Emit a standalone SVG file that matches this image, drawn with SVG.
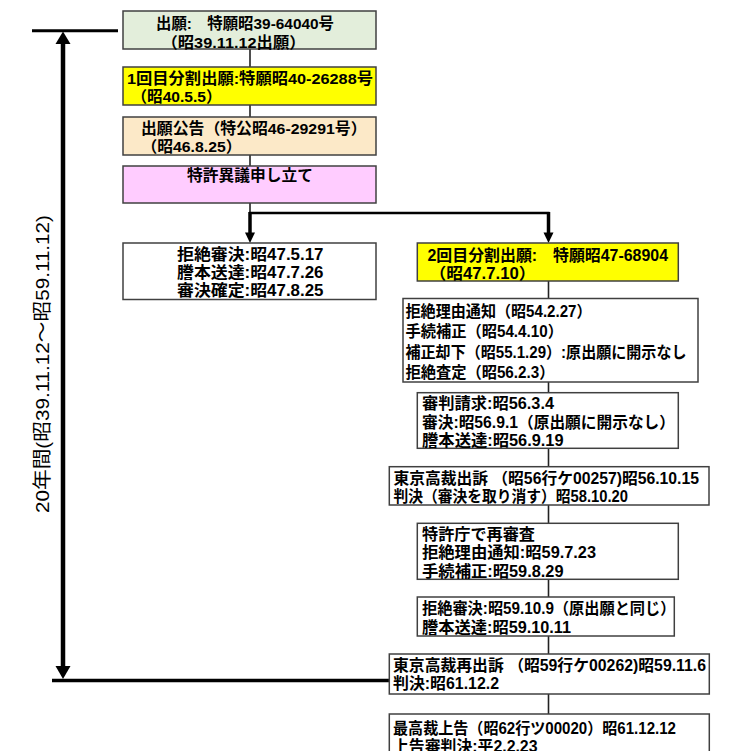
<svg xmlns="http://www.w3.org/2000/svg" width="739" height="751" viewBox="0 0 739 751">
<style>
.box{stroke:#404040;stroke-width:1.5}
.t{font-family:"Liberation Sans","Noto Sans CJK JP","Noto Sans CJK SC",sans-serif;font-weight:bold;font-size:16px;fill:#000}
.s{font-size:15.5px}
.thin{stroke:#222;stroke-width:1.6;fill:none}
.thick{stroke:#000;fill:none}
.lbl{font-family:"Liberation Sans","Noto Sans CJK JP",sans-serif;font-size:19px;fill:#000}
</style>
<defs>
<polygon id="ah" points="-5,-10.5 5,-10.5 0,0" fill="#000"/>
</defs>
<rect width="739" height="751" fill="#fff"/>

<g id="connectors">
  <line class="thin" x1="250" y1="49" x2="250" y2="67"/>
  <line class="thin" x1="250" y1="105" x2="250" y2="117"/>
  <line class="thin" x1="250" y1="155" x2="250" y2="166"/>
  <line class="thin" x1="250" y1="203" x2="250" y2="213"/>
  <line class="thick" stroke-width="2.5" x1="249" y1="213" x2="549.5" y2="213"/>
  <line class="thick" stroke-width="3.5" x1="250" y1="212" x2="250" y2="234"/>
  <line class="thick" stroke-width="3.5" x1="548.5" y1="212" x2="548.5" y2="234"/>
  <use href="#ah" x="250" y="243"/>
  <use href="#ah" x="548.5" y="243"/>
  <line class="thin" x1="548.5" y1="281" x2="548.5" y2="298.5"/>
  <line class="thin" x1="548.5" y1="382" x2="548.5" y2="392.7"/>
  <line class="thin" x1="548.5" y1="448.3" x2="548.5" y2="466.7"/>
  <line class="thin" x1="548.5" y1="505" x2="548.5" y2="523.3"/>
  <line class="thin" x1="548.5" y1="579.3" x2="548.5" y2="597"/>
  <line class="thin" x1="548.5" y1="636" x2="548.5" y2="654"/>
  <line class="thin" x1="548.5" y1="694" x2="548.5" y2="714"/>
  <!-- 20-year span -->
  <line class="thick" stroke-width="3" x1="32" y1="30.8" x2="118" y2="30.8"/>
  <line class="thick" stroke-width="3.5" x1="52" y1="680.5" x2="389.3" y2="680.5"/>
  <line class="thick" stroke-width="4.5" x1="63" y1="42" x2="63" y2="668"/>
  <polygon points="63,31.5 55.5,44 70.5,44" fill="#000"/>
  <polygon points="63,679 55.5,666 70.5,666" fill="#000"/>
</g>

<g id="span-label">
  <text class="lbl" transform="translate(49,364) rotate(-90)" text-anchor="middle" textLength="298" lengthAdjust="spacingAndGlyphs">20年間(昭39.11.12～昭59.11.12)</text>
</g>

<g id="n1">
  <rect class="box" x="123" y="11" width="253" height="38" fill="#e3eedb"/>
  <text class="t s" x="156" y="28.5" textLength="178" lengthAdjust="spacingAndGlyphs">出願:　特願昭39-64040号</text>
  <text class="t s" x="161.5" y="47.5" textLength="144" lengthAdjust="spacingAndGlyphs">（昭39.11.12出願）</text>
</g>

<g id="n2">
  <rect class="box" x="123" y="67" width="253" height="38" fill="#ffff00"/>
  <text class="t s" x="127" y="84" textLength="246" lengthAdjust="spacingAndGlyphs">1回目分割出願:特願昭40-26288号</text>
  <text class="t s" x="131.5" y="102.2" textLength="90" lengthAdjust="spacingAndGlyphs">（昭40.5.5）</text>
</g>

<g id="n3">
  <rect class="box" x="123" y="117" width="253" height="38" fill="#fce9c8"/>
  <text class="t s" x="141" y="134" textLength="225.5" lengthAdjust="spacingAndGlyphs">出願公告（特公昭46-29291号）</text>
  <text class="t s" x="141.5" y="152.3" textLength="100" lengthAdjust="spacingAndGlyphs">（昭46.8.25）</text>
</g>

<g id="n4">
  <rect class="box" x="123" y="166" width="253" height="37" fill="#ffccff"/>
  <text class="t s" x="187" y="180.7" textLength="126" lengthAdjust="spacingAndGlyphs">特許異議申し立て</text>
</g>

<g id="n5">
  <rect class="box" x="123" y="243" width="253" height="56.5" fill="#fff"/>
  <text class="t" x="177" y="259.5" textLength="146.5" lengthAdjust="spacingAndGlyphs">拒絶審決:昭47.5.17</text>
  <text class="t" x="177" y="277.9" textLength="146.5" lengthAdjust="spacingAndGlyphs">謄本送達:昭47.7.26</text>
  <text class="t" x="177" y="296.2" textLength="146.5" lengthAdjust="spacingAndGlyphs">審決確定:昭47.8.25</text>
</g>

<g id="n6">
  <rect class="box" x="417.3" y="243" width="261" height="38" fill="#ffff00"/>
  <text class="t" x="427.5" y="261" textLength="240.5" lengthAdjust="spacingAndGlyphs">2回目分割出願:　特願昭47-68904</text>
  <text class="t" x="429.5" y="279" textLength="106" lengthAdjust="spacingAndGlyphs">（昭47.7.10）</text>
</g>

<g id="n7">
  <rect class="box" x="403" y="298.5" width="295" height="83.5" fill="#fff"/>
  <text class="t" x="405.5" y="317" textLength="186" lengthAdjust="spacingAndGlyphs">拒絶理由通知（昭54.2.27）</text>
  <text class="t" x="405.5" y="337" textLength="157.5" lengthAdjust="spacingAndGlyphs">手続補正（昭54.4.10）</text>
  <text class="t" x="405.5" y="357.5" textLength="281" lengthAdjust="spacingAndGlyphs">補正却下（昭55.1.29）:原出願に開示なし</text>
  <text class="t" x="405.5" y="378" textLength="149" lengthAdjust="spacingAndGlyphs">拒絶査定（昭56.2.3）</text>
</g>

<g id="n8">
  <rect class="box" x="417.3" y="392.7" width="261" height="55.6" fill="#fff"/>
  <text class="t" x="422" y="409.2" textLength="132" lengthAdjust="spacingAndGlyphs">審判請求:昭56.3.4</text>
  <text class="t" x="422" y="427.6" textLength="253" lengthAdjust="spacingAndGlyphs">審決:昭56.9.1（原出願に開示なし）</text>
  <text class="t" x="422" y="445.9" textLength="141.5" lengthAdjust="spacingAndGlyphs">謄本送達:昭56.9.19</text>
</g>

<g id="n9">
  <rect class="box" x="389.3" y="466.7" width="319.7" height="38.3" fill="#fff"/>
  <text class="t" x="393.5" y="484.2" textLength="305.5" lengthAdjust="spacingAndGlyphs">東京高裁出訴 （昭56行ケ00257)昭56.10.15</text>
  <text class="t" x="393.5" y="501.9" textLength="234.5" lengthAdjust="spacingAndGlyphs">判決（審決を取り消す）昭58.10.20</text>
</g>

<g id="n10">
  <rect class="box" x="417.3" y="523.3" width="261" height="56" fill="#fff"/>
  <text class="t" x="422" y="539.9" textLength="113" lengthAdjust="spacingAndGlyphs">特許庁で再審査</text>
  <text class="t" x="422" y="558.2" textLength="174" lengthAdjust="spacingAndGlyphs">拒絶理由通知:昭59.7.23</text>
  <text class="t" x="422" y="576.6" textLength="141.5" lengthAdjust="spacingAndGlyphs">手続補正:昭59.8.29</text>
</g>

<g id="n11">
  <rect class="box" x="417.3" y="597" width="257" height="39" fill="#fff"/>
  <text class="t" x="422" y="614.2" textLength="253.5" lengthAdjust="spacingAndGlyphs">拒絶審決:昭59.10.9（原出願と同じ）</text>
  <text class="t" x="422" y="632.6" textLength="149" lengthAdjust="spacingAndGlyphs">謄本送達:昭59.10.11</text>
</g>

<g id="n12">
  <rect class="box" x="389.3" y="654" width="320" height="40" fill="#fff"/>
  <text class="t" x="393" y="670.9" textLength="313" lengthAdjust="spacingAndGlyphs">東京高裁再出訴 （昭59行ケ00262)昭59.11.6</text>
  <text class="t" x="393" y="688.6" textLength="106" lengthAdjust="spacingAndGlyphs">判決:昭61.12.2</text>
</g>

<g id="n13">
  <rect class="box" x="389.3" y="714" width="320" height="60" fill="#fff"/>
  <text class="t" x="393" y="734.2" textLength="283" lengthAdjust="spacingAndGlyphs">最高裁上告（昭62行ツ00020）昭61.12.12</text>
  <text class="t" x="393" y="752" textLength="144.5" lengthAdjust="spacingAndGlyphs">上告審判決:平2.2.23</text>
</g>
</svg>
